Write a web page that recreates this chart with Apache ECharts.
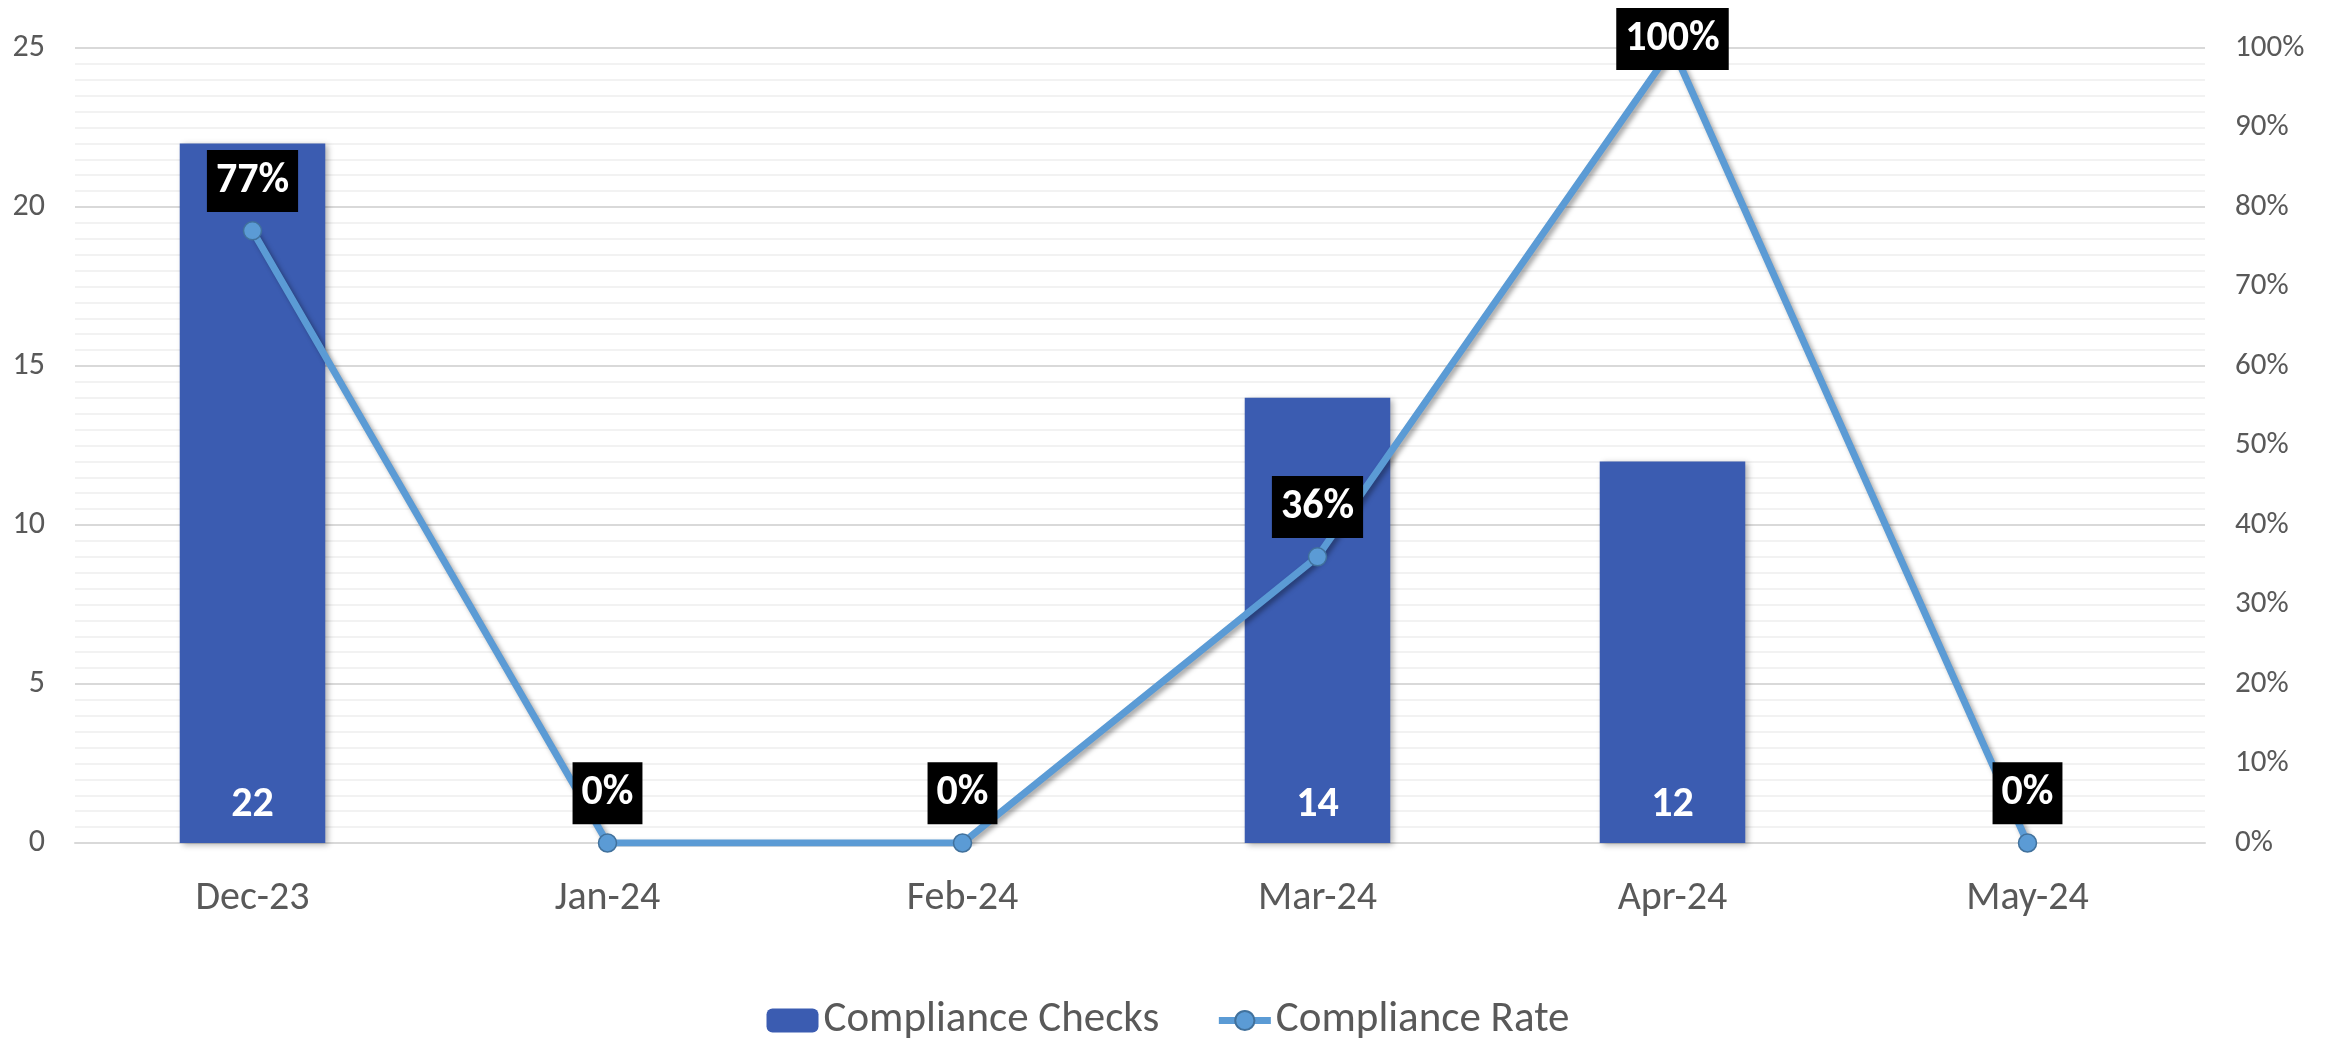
<!DOCTYPE html>
<html>
<head>
<meta charset="utf-8">
<script src="https://cdn.jsdelivr.net/npm/echarts@6/dist/echarts.min.js"></script>
<style>
  html, body { margin: 0; padding: 0; background: #fff; }
  #container { width: 2336px; height: 1038px; }
</style>
</head>
<body>
<div id="container"></div>
<script>
let months = ['Dec-23', 'Jan-24', 'Feb-24', 'Mar-24', 'Apr-24', 'May-24'];
let checks = [22, 0, 0, 14, 12, 0];
let rates = [77, 0, 0, 36, 100, 0];

let font = "'Carlito', 'Noto Sans', sans-serif";
let dom = document.getElementById('container');
let myChart = echarts.init(dom);

let option = {
    textStyle: { fontFamily: font },
    legend: {
        bottom: -4,
        padding: 0,
        itemWidth: 52,
        itemHeight: 24,
        itemGap: 56,
        textStyle: { fontSize: 43, color: '#595959', fontFamily: font },
        data: [
            { name: 'Compliance Checks' },
            { name: 'Compliance Rate', lineStyle: { width: 7 } }
        ]
    },
    grid: { left: 75, right: 131, top: 48, bottom: 195, containLabel: false },
    xAxis: {
        type: 'category',
        data: months,
        axisLine: { lineStyle: { color: '#d9d9d9', width: 2 } },
        axisTick: { show: false },
        axisLabel: { fontSize: 40, color: '#595959', margin: 36, fontFamily: font }
    },
    yAxis: [
        {
            type: 'value',
            min: 0,
            max: 25,
            interval: 5,
            axisLine: { show: false },
            axisTick: { show: false },
            axisLabel: { fontSize: 32, color: '#595959', margin: 30, fontFamily: font },
            splitLine: { lineStyle: { color: '#d9d9d9', width: 2 } },
            minorTick: { show: false, splitNumber: 10 },
            minorSplitLine: { show: true, lineStyle: { color: '#f2f2f2', width: 2 } }
        },
        {
            type: 'value',
            min: 0,
            max: 100,
            interval: 10,
            axisLine: { show: false },
            axisTick: { show: false },
            splitLine: { show: false },
            axisLabel: { fontSize: 31, color: '#595959', margin: 30, formatter: '{value}%', fontFamily: font }
        }
    ],
    series: [
        {
            name: 'Compliance Checks',
            type: 'bar',
            barWidth: '41%',
            data: checks,
            itemStyle: {
                color: '#3b5cb1',
                shadowColor: 'rgba(0,0,0,0.3)',
                shadowBlur: 6,
                shadowOffsetX: 3,
                shadowOffsetY: 2
            },
            label: {
                show: true,
                position: 'insideBottom',
                distance: 17,
                color: '#fff',
                fontSize: 42,
                fontWeight: 'bold',
                fontFamily: font,
                formatter: function (p) { return p.value > 0 ? p.value : ''; }
            }
        },
        {
            name: 'Compliance Rate',
            type: 'line',
            yAxisIndex: 1,
            data: rates.map(function (v) {
                // the top point's label sits centred on the marker, as in the source
                return v >= 100 ? { value: v, label: { position: 'inside', offset: [0, -9] } } : v;
            }),
            symbol: 'circle',
            symbolSize: 18,
            z: 5,
            lineStyle: {
                color: '#5b9bd5',
                width: 7,
                shadowColor: 'rgba(0,0,0,0.35)',
                shadowBlur: 5,
                shadowOffsetX: 3,
                shadowOffsetY: 3
            },
            itemStyle: {
                color: '#5b9bd5',
                borderColor: '#41719c',
                borderWidth: 1.5
            },
            label: {
                show: true,
                position: 'top',
                distance: 9,
                color: '#fff',
                backgroundColor: '#000',
                fontSize: 42,
                fontWeight: 'bold',
                lineHeight: 44,
                padding: [9, 9, 9, 9],
                fontFamily: font,
                formatter: '{c}%'
            }
        }
    ]
};

myChart.setOption(option);
</script>
</body>
</html>
